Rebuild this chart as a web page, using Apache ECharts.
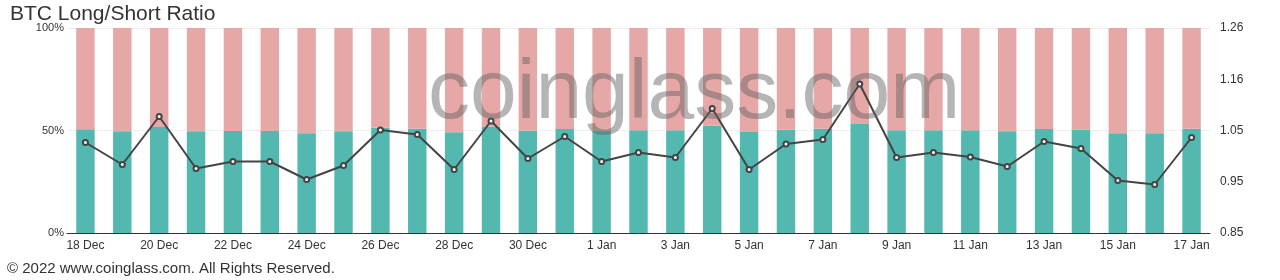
<!DOCTYPE html>
<html>
<head>
<meta charset="utf-8">
<script src="https://cdn.jsdelivr.net/npm/echarts@6/dist/echarts.min.js"></script>
<style>
html,body{margin:0;padding:0;background:#fff;}
#chart{width:1280px;height:280px;}
</style>
</head>
<body>
<div id="chart"></div>
<script>
const categories = ['18 Dec','19 Dec','20 Dec','21 Dec','22 Dec','23 Dec','24 Dec','25 Dec','26 Dec','27 Dec','28 Dec','29 Dec','30 Dec','31 Dec','1 Jan','2 Jan','3 Jan','4 Jan','5 Jan','6 Jan','7 Jan','8 Jan','9 Jan','10 Jan','11 Jan','12 Jan','13 Jan','14 Jan','15 Jan','16 Jan','17 Jan'];
const longPct = [50.6,49.6,51.7,49.6,49.8,49.8,48.6,49.6,51.4,50.9,49.1,51.9,49.9,50.7,49.9,50.1,50.1,52.3,49.3,50.4,50.9,53.2,50.1,50.1,50.1,49.6,50.7,50.4,48.6,48.6,50.9];
const shortPct = [49.4,50.4,48.3,50.4,50.2,50.2,51.4,50.4,48.6,49.1,50.9,48.1,50.1,49.3,50.1,49.9,49.9,47.7,50.7,49.6,49.1,46.8,49.9,49.9,49.9,50.4,49.3,49.6,51.4,51.4,49.1];
const ratio = [1.031,0.987,1.083,0.979,0.993,0.993,0.957,0.985,1.056,1.047,0.977,1.074,0.999,1.043,0.993,1.011,1.001,1.099,0.977,1.028,1.037,1.148,1.001,1.011,1.002,0.983,1.033,1.019,0.955,0.947,1.041];
const rightTickLabels = ['0.85','0.95','1.05','1.16','1.26'];
const leftTickLabels = ['0%','50%','100%'];

const chart = echarts.init(document.getElementById('chart'), null, {renderer:'canvas'});
const FONT = 'Liberation Sans, Arial, sans-serif';
chart.setOption({
  animation:false,
  title:{text:'BTC Long/Short Ratio', left:5, top:-1, textStyle:{fontSize:21, fontWeight:'normal', color:'#333', fontFamily:FONT}},
  graphic:[
    {type:'text', left:428, top:53, z:100, silent:true,
     style:{text:'coinglass.com', fontSize:84, fontFamily:FONT, fill:'rgba(100,100,100,0.48)'}},
    {type:'text', left:7, top:261, style:{text:'© 2022 www.coinglass.com. All Rights Reserved.', fontSize:15, fontFamily:FONT, fill:'#333'}}
  ],
  grid:{left:67, right:70, top:28, bottom:47},
  xAxis:{type:'category', data:categories,
    axisLine:{lineStyle:{color:'#333'}}, axisTick:{show:false},
    axisLabel:{interval:1, margin:7, color:'#333', fontSize:12, fontFamily:FONT}},
  yAxis:[
    {type:'value', min:0, max:100, interval:50, position:'left',
     axisLine:{show:false}, axisTick:{show:false},
     splitLine:{lineStyle:{color:'#eee'}},
     axisLabel:{margin:3, color:'#333', fontSize:11, fontFamily:FONT, formatter:function(v){return leftTickLabels[Math.round(v/50)];}}},
    {type:'value', min:0.85, max:1.26, position:'right', show:false, splitLine:{show:false}},
    {type:'value', min:0, max:4, interval:1, position:'right',
     axisLine:{show:false}, axisTick:{show:false}, splitLine:{show:false},
     axisLabel:{margin:10, color:'#333', fontSize:12, fontFamily:FONT, formatter:function(v){return rightTickLabels[Math.round(v)];}}}
  ],
  series:[
    {name:'Long', type:'bar', stack:'ls', data:longPct, barWidth:'50%', itemStyle:{color:'#52b8b0'}, yAxisIndex:0},
    {name:'Short', type:'bar', stack:'ls', data:shortPct, barWidth:'50%', itemStyle:{color:'#e6a8a6'}, yAxisIndex:0},
    {name:'Ratio', type:'line', data:ratio, yAxisIndex:1, symbol:'emptyCircle', symbolSize:5,
     lineStyle:{color:'#444', width:2}, itemStyle:{color:'#444'}, z:10}
  ]
});
</script>
</body>
</html>
